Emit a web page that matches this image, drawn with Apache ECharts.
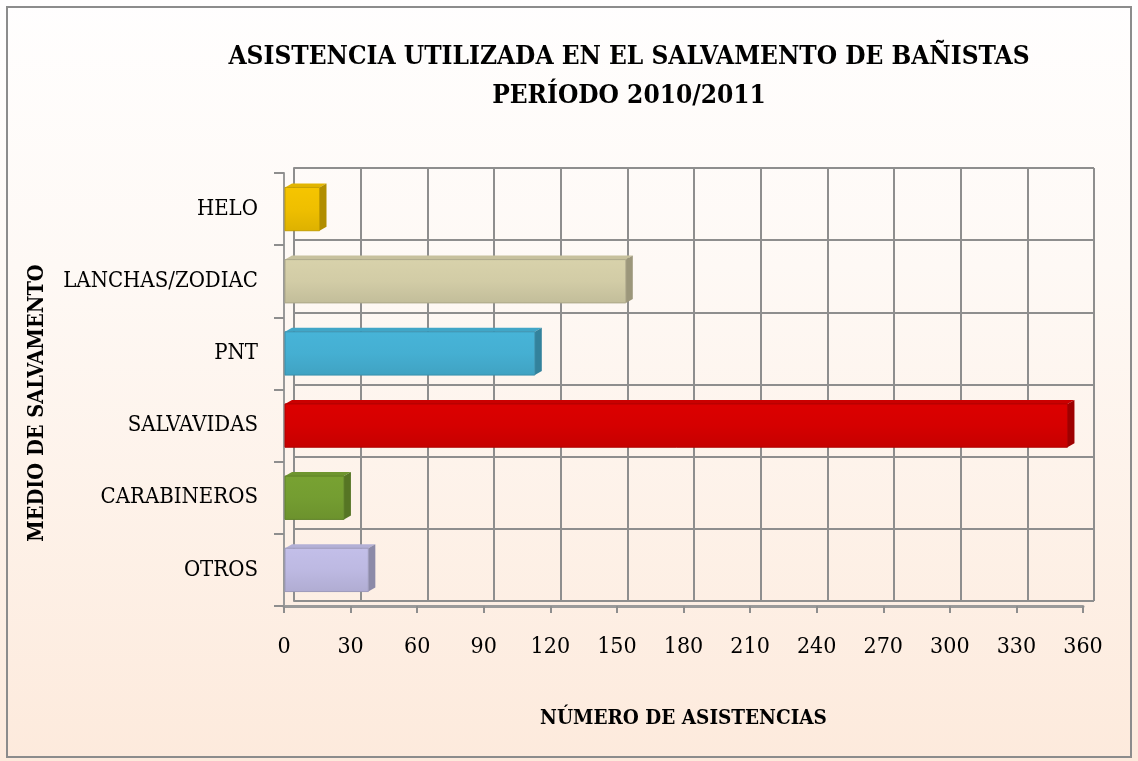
<!DOCTYPE html>
<html>
<head>
<meta charset="utf-8">
<script src="https://cdn.jsdelivr.net/npm/echarts@6/dist/echarts.min.js"></script>
<style>
  html, body { margin: 0; padding: 0; }
  #main { width: 1138px; height: 761px; }
</style>
</head>
<body>
<div id="main"></div>
<script>
// datos del grafico
const categories = ['OTROS', 'CARABINEROS', 'SALVAVIDAS', 'PNT', 'LANCHAS/ZODIAC', 'HELO'];
const values = [38, 27, 353, 113, 154, 16];
const barColors = ['#c3bfe9', '#78a232', '#dc0000', '#47b4d8', '#d8d2ab', '#f6c500'];
const xTicks = [0, 30, 60, 90, 120, 150, 180, 210, 240, 270, 300, 330, 360];

const FONT = '"DejaVu Serif Condensed", "Liberation Serif", serif';

function shade(hex, k) {
  let c = parseInt(hex.slice(1), 16);
  let r = Math.round(((c >> 16) & 255) * k);
  let g = Math.round(((c >> 8) & 255) * k);
  let b = Math.round((c & 255) * k);
  return 'rgb(' + r + ',' + g + ',' + b + ')';
}

// barra con efecto 3D (cara frontal + lado + tapa)
function renderBar(params, api) {
  const idx = params.dataIndex;
  const start = api.coord([0, api.value(1)]);
  const end = api.coord([api.value(0), api.value(1)]);
  const h = api.size([0, 1])[1] * 0.6;
  const dx = 7, dy = -4;
  const x0 = start[0] + 1, x1 = end[0], y0 = end[1] - h / 2, y1 = end[1] + h / 2;
  const col = barColors[idx];
  return {
    type: 'group',
    children: [
      {
        type: 'polygon',
        shape: { points: [[x0, y0], [x0 + dx, y0 + dy], [x1 + dx, y0 + dy], [x1, y0]] },
        style: { fill: shade(col, 0.92) }
      },
      {
        type: 'polygon',
        shape: { points: [[x1, y0], [x1 + dx, y0 + dy], [x1 + dx, y1 + dy], [x1, y1]] },
        style: { fill: shade(col, 0.72) }
      },
      {
        type: 'rect',
        shape: { x: x0, y: y0, width: x1 - x0, height: h },
        style: {
          fill: {
            type: 'linear', x: 0, y: 0, x2: 0, y2: 1,
            colorStops: [
              { offset: 0, color: shade(col, 1.0) },
              { offset: 0.5, color: shade(col, 0.97) },
              { offset: 1, color: shade(col, 0.9) }
            ]
          },
          stroke: shade(col, 0.8),
          lineWidth: 1
        }
      }
    ]
  };
}

function initChart(dom) {
  const chart = echarts.init(dom, null, { renderer: 'canvas' });
  const gridLine = { show: true, lineStyle: { color: '#8e8e8e', width: 2 } };

  let option = {
    animation: false,
    backgroundColor: {
      type: 'linear', x: 0, y: 0, x2: 0, y2: 1,
      colorStops: [
        { offset: 0, color: '#fffefe' },
        { offset: 0.35, color: '#fef9f5' },
        { offset: 1, color: '#fdeadc' }
      ]
    },
    graphic: [
      {
        type: 'rect',
        shape: { x: 7, y: 7, width: 1124, height: 750 },
        style: { fill: 'none', stroke: '#8c8c8c', lineWidth: 2 },
        z: 0
      },
      {
        // titulo del eje vertical
        type: 'text',
        x: 37,
        y: 403,
        rotation: Math.PI / 2,
        style: {
          text: 'MEDIO DE SALVAMENTO',
          fontFamily: FONT,
          fontWeight: 'bold',
          fontSize: 21.5,
          fill: '#000',
          align: 'center',
          verticalAlign: 'middle'
        }
      }
    ],
    title: {
      text: 'ASISTENCIA UTILIZADA EN EL SALVAMENTO DE BAÑISTAS\nPERÍODO 2010/2011',
      left: 624,
      top: 33,
      textAlign: 'center',
      textStyle: {
        fontFamily: FONT,
        fontWeight: 'bold',
        fontSize: 26,
        lineHeight: 39,
        color: '#000'
      }
    },
    grid: [
      // pared del fondo
      { left: 294, right: 44, top: 168, bottom: 160 },
      // plano frontal
      { left: 284, right: 55, top: 173, bottom: 155 }
    ],
    xAxis: [
      {
        gridIndex: 0, type: 'value', min: 0, max: 360, interval: 30,
        axisLine: { show: false }, axisTick: { show: false }, axisLabel: { show: false },
        splitLine: gridLine
      },
      {
        gridIndex: 1, type: 'value', min: 0, max: 360, interval: 30,
        name: 'NÚMERO DE ASISTENCIAS',
        nameLocation: 'middle',
        nameGap: 102,
        nameTextStyle: { fontFamily: FONT, fontWeight: 'bold', fontSize: 20.5, color: '#000' },
        axisLine: { show: true, lineStyle: { color: '#9a9a9a', width: 3 } },
        axisTick: { show: true, inside: false, length: 7, lineStyle: { color: '#8e8e8e', width: 2 } },
        axisLabel: {
          margin: 30,
          fontFamily: FONT, fontSize: 23, color: '#000',
          formatter: function (v) { return xTicks.indexOf(v) >= 0 ? String(v) : ''; }
        },
        splitLine: { show: false }
      }
    ],
    yAxis: [
      {
        gridIndex: 0, type: 'category', data: categories,
        axisLine: { show: true, lineStyle: { color: '#8e8e8e', width: 2 } },
        axisTick: { show: false }, axisLabel: { show: false },
        splitLine: gridLine
      },
      {
        gridIndex: 1, type: 'category', data: categories,
        axisLine: { show: true, lineStyle: { color: '#9a9a9a', width: 2 } },
        axisTick: { show: true, length: 10, lineStyle: { color: '#8e8e8e', width: 2 } },
        axisLabel: { margin: 26, fontFamily: FONT, fontSize: 22, color: '#000' },
        splitLine: { show: false }
      }
    ],
    series: [
      {
        type: 'custom',
        xAxisIndex: 1,
        yAxisIndex: 1,
        renderItem: renderBar,
        encode: { x: 0, y: 1 },
        data: values.map(function (v, i) { return [v, i]; }),
        z: 5
      }
    ]
  };
  chart.setOption(option);
  return chart;
}

initChart(document.getElementById('main'));
</script>
</body>
</html>
